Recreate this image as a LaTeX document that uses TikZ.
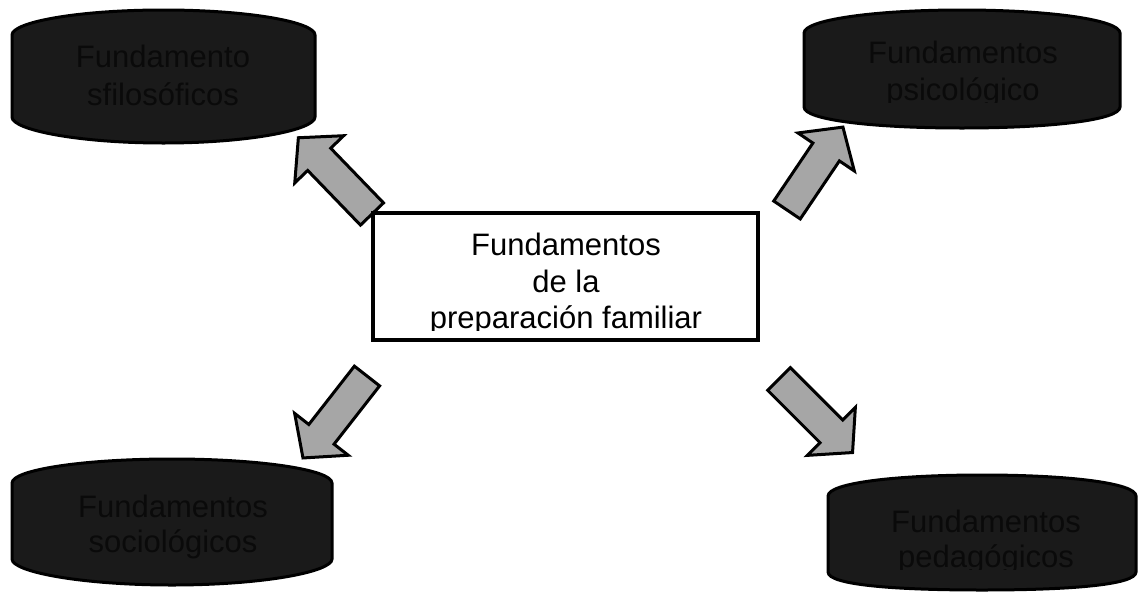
\documentclass[tikz,border=0pt]{standalone}
\usepackage{fontspec}
\setmainfont{Liberation Sans}
\begin{document}
\begin{tikzpicture}[x=1pt,y=-1pt,
  barrelstyle/.style={draw=black, line width=3pt, fill={rgb,255:red,26;green,26;blue,26}},
  arrowstyle/.style={draw=black, line width=3pt, line join=miter, fill={rgb,255:red,166;green,166;blue,166}},
  centerbox/.style={draw=black, line width=3.5pt, fill=white},
  darktext/.style={text={rgb,255:red,10;green,10;blue,10}, font=\fontsize{31}{37}\selectfont, inner sep=0pt, anchor=base},
  lighttext/.style={text=black, font=\fontsize{31}{37}\selectfont, inner sep=0pt, anchor=base}]
\useasboundingbox (0,0) rectangle (1138,592);
\newcommand{\barrel}[6]{%
  \pgfmathsetmacro{\bm}{(#1+#2)/2}%
  \pgfmathsetmacro{\qa}{#1+0.22*(#2-#1)}%
  \pgfmathsetmacro{\qb}{#2-0.22*(#2-#1)}%
  \draw[barrelstyle] (#1,#4+8) .. controls (#1,#4-5) and (\qa,#3) .. (\bm,#3)
    .. controls (\qb,#3) and (#2,#4-5) .. (#2,#4+8) -- (#2,#5-8)
    .. controls (#2,#5+5) and (\qb,#6) .. (\bm,#6)
    .. controls (\qa,#6) and (#1,#5+5) .. (#1,#5-8) -- cycle;}
\newcommand{\blockarrow}[4]{%
  \draw[arrowstyle, shift={(#1,#2)}, rotate=#3] (0,-16) -- (#4-30,-16) -- (#4-30,-34) -- (#4,0) -- (#4-30,34) -- (#4-30,16) -- (0,16) -- cycle;}
% barrels: L R T Tc Bc B
\barrel{12}{315}{10}{27}{125}{143}
\barrel{804}{1120}{10}{25}{115}{128}
\barrel{12}{332}{459}{475}{567}{585}
\barrel{828}{1136}{475}{488}{580}{590}
% block arrows
\blockarrow{372}{214}{134}{106}
\blockarrow{787}{210}{56}{100}
\blockarrow{367}{376}{232}{104}
\blockarrow{779}{379}{315}{104}
% center box
\draw[centerbox] (373,213) rectangle (758,340);
\begin{scope}
  \clip (373,213) rectangle (758,330);
  \node[lighttext] (c1) at (566,255) {Fundamentos};
  \node[lighttext] (c2) at (566,292) {de la};
  \node[lighttext] (c3) at (566,328) {preparación familiar};
\end{scope}
% barrel texts
\node[darktext] (f1) at (163,67) {Fundamento};
\node[darktext] (f2) at (163,105) {sfilosóficos};
\begin{scope}
  \clip (804,0) rectangle (1120,102);
  \node[darktext] (p1) at (963,63) {Fundamentos};
  \node[darktext] (p2) at (963,100) {psicológico};
\end{scope}
\node[darktext] (s1) at (173,517) {Fundamentos};
\node[darktext] (s2) at (173,552) {sociológicos};
\begin{scope}
  \clip (828,470) rectangle (1136,569);
  \node[darktext] (g1) at (986,532) {Fundamentos};
  \node[darktext] (g2) at (986,567) {pedagógicos};
\end{scope}
\end{tikzpicture}
\end{document}
